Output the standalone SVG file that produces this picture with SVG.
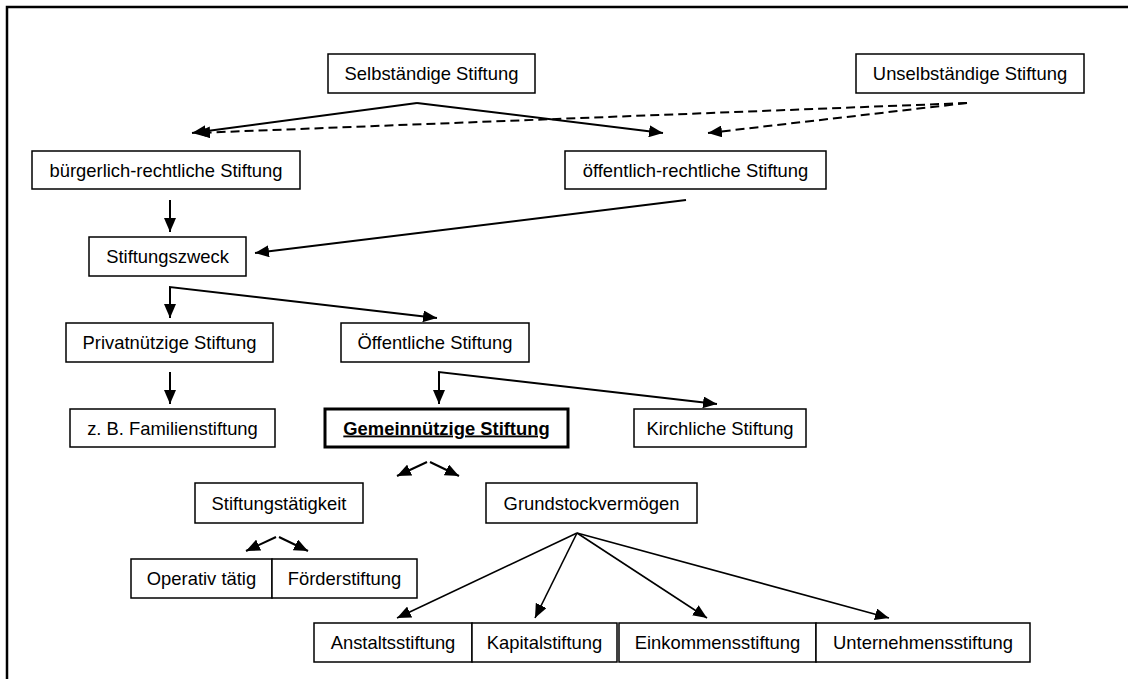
<svg xmlns="http://www.w3.org/2000/svg" width="1128" height="679" viewBox="0 0 1128 679">
<defs>
<style>
.box{fill:#fff;stroke:#000;stroke-width:1.5}
.bold{stroke-width:3}
.t{font-family:"Liberation Sans",Arial,Helvetica,sans-serif;font-size:18.4px;fill:#000;text-anchor:middle}
.c{fill:none;stroke:#000;stroke-width:2}
.thin{stroke-width:1.6}
.d{stroke-dasharray:9,5}
</style>
<marker id="ah" markerUnits="userSpaceOnUse" markerWidth="14" markerHeight="12" refX="14" refY="6" orient="auto">
<path d="M0,0 L14,6 L0,12 z" fill="#000"/>
</marker>
</defs>
<rect x="0" y="0" width="1128" height="679" fill="#fff"/>
<path d="M7,679 L7,7 L1128,7" fill="none" stroke="#000" stroke-width="2.5"/>

<g id="connectors">
<path class="c" d="M417,103 L192,133" marker-end="url(#ah)"/>
<path class="c" d="M417,103 L663,133" marker-end="url(#ah)"/>
<path class="c d" d="M967,103 L196,133" marker-end="url(#ah)"/>
<path class="c d" d="M967,103 L708,133" marker-end="url(#ah)"/>
<path class="c" d="M170,200 L170,232" marker-end="url(#ah)"/>
<path class="c" d="M686,200 L255,253" marker-end="url(#ah)"/>
<path class="c" d="M170,318 L170,287 L437,318" marker-end="url(#ah)"/>
<path class="c" d="M170,288 L170,318" marker-end="url(#ah)"/>
<path class="c" d="M170,372 L170,404" marker-end="url(#ah)"/>
<path class="c" d="M439,404 L439,372 L717,404" marker-end="url(#ah)"/>
<path class="c" d="M439,373 L439,404" marker-end="url(#ah)"/>
<path class="c" d="M427,462 L397,476" marker-end="url(#ah)"/>
<path class="c" d="M430,462 L459,476" marker-end="url(#ah)"/>
<path class="c" d="M276,537 L246,551" marker-end="url(#ah)"/>
<path class="c" d="M279,537 L308,551" marker-end="url(#ah)"/>
<path class="c thin" d="M577,533 L397,618" marker-end="url(#ah)"/>
<path class="c thin" d="M577,533 L535,618" marker-end="url(#ah)"/>
<path class="c thin" d="M577,533 L707,618" marker-end="url(#ah)"/>
<path class="c thin" d="M577,533 L889,618" marker-end="url(#ah)"/>
</g>

<g id="n-selbst"><rect class="box" x="328" y="54" width="207" height="39"/><text class="t" x="431.5" y="80">Selbständige Stiftung</text></g>
<g id="n-unselbst"><rect class="box" x="856" y="54" width="228" height="39"/><text class="t" x="970" y="80">Unselbständige Stiftung</text></g>
<g id="n-buerg"><rect class="box" x="32" y="151" width="268" height="38"/><text class="t" x="166" y="176.5">bürgerlich-rechtliche Stiftung</text></g>
<g id="n-oeffr"><rect class="box" x="565" y="151" width="261" height="38"/><text class="t" x="695.5" y="176.5">öffentlich-rechtliche Stiftung</text></g>
<g id="n-zweck"><rect class="box" x="89" y="237" width="157" height="39"/><text class="t" x="167.5" y="263">Stiftungszweck</text></g>
<g id="n-privat"><rect class="box" x="66" y="323" width="207" height="39"/><text class="t" x="169.5" y="349">Privatnützige Stiftung</text></g>
<g id="n-oeff"><rect class="box" x="341" y="323" width="188" height="39"/><text class="t" x="435" y="349">Öffentliche Stiftung</text></g>
<g id="n-familie"><rect class="box" x="70" y="409" width="205" height="38"/><text class="t" x="172.5" y="434.5">z. B. Familienstiftung</text></g>
<g id="n-gemein"><rect class="box bold" x="325" y="409" width="243" height="38"/><text class="t" x="446.5" y="434.5" font-weight="bold" text-decoration="underline">Gemeinnützige Stiftung</text></g>
<g id="n-kirch"><rect class="box" x="634" y="409" width="172" height="38"/><text class="t" x="720" y="434.5">Kirchliche Stiftung</text></g>
<g id="n-taetig"><rect class="box" x="195" y="483" width="168" height="40"/><text class="t" x="279" y="509.5">Stiftungstätigkeit</text></g>
<g id="n-grund"><rect class="box" x="486" y="483" width="211" height="40"/><text class="t" x="591.5" y="509.5">Grundstockvermögen</text></g>
<g id="n-operativ"><rect class="box" x="131" y="559" width="141" height="39"/><text class="t" x="201.5" y="585">Operativ tätig</text></g>
<g id="n-foerder"><rect class="box" x="272" y="559" width="145" height="39"/><text class="t" x="344.5" y="585">Förderstiftung</text></g>
<g id="n-anstalt"><rect class="box" x="314" y="623" width="158" height="39"/><text class="t" x="393" y="649">Anstaltsstiftung</text></g>
<g id="n-kapital"><rect class="box" x="472" y="623" width="145" height="39"/><text class="t" x="544.5" y="649">Kapitalstiftung</text></g>
<g id="n-einkommen"><rect class="box" x="619" y="623" width="197" height="39"/><text class="t" x="717.5" y="649">Einkommensstiftung</text></g>
<g id="n-unternehmen"><rect class="box" x="816" y="623" width="214" height="39"/><text class="t" x="923" y="649">Unternehmensstiftung</text></g>
</svg>
